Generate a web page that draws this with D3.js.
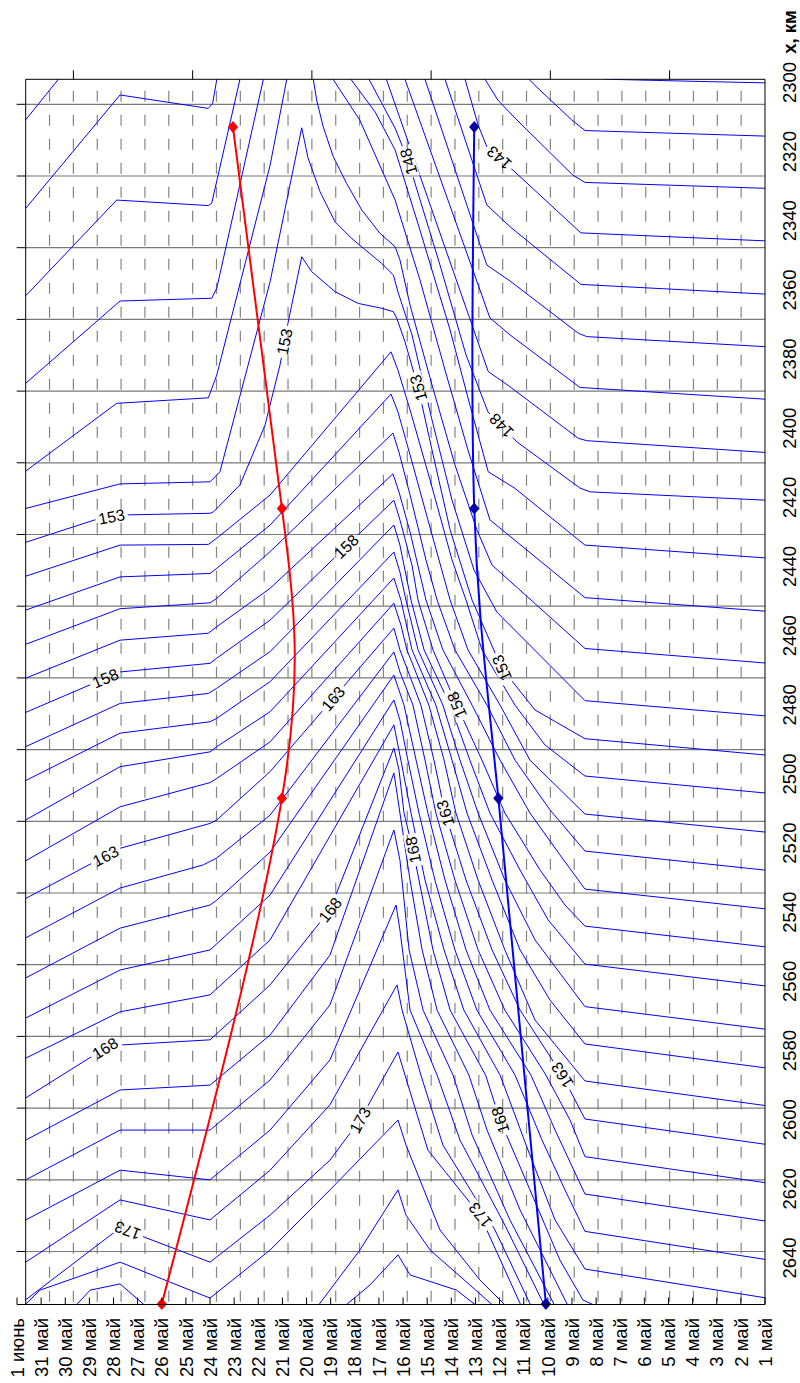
<!DOCTYPE html>
<html>
<head>
<meta charset="utf-8">
<script src="https://cdn.jsdelivr.net/npm/d3@7"></script>
<style>
  body { margin: 0; background: #fff; }
  svg { display: block; font-family: "Liberation Sans", Arial, sans-serif; }
</style>
</head>
<body>
<div id="chart"></div>
<script>
// ---- data ----
// day numbers: 1..31 = 1..31 May, 32 = 1 June
const dayTicks = d3.range(1, 33);
const kmTicks = d3.range(2300, 2641, 20);
const gridCols = d3.range(1, 31);
const gridRows = d3.range(0, 17);
const topTickCols = [2, 7, 12, 17, 22, 27];

const stationKm = [2312.9, 2423.2, 2507.0, 2653.3];
const redDays = [23.05, 21.02, 21.02, 26.0];
const blueDays = [13.05, 13.05, 12.05, 10.08];

// isolines, [day, km]
const contours = [
  { v: 140, pts: [[9.5,2297.8],[7.34,2299.1],[3.69,2299.7],[1,2300.1]] },
  { v: 141, pts: [[11.15,2295.8],[10.78,2299.1],[10.33,2302.2],[9.01,2310.8],[8.46,2313.9],[1,2315.5]] },
  { v: 142, pts: [[12.89,2295.8],[12.6,2299.1],[12.07,2305.1],[11.36,2310.3],[8.96,2326.8],[8.46,2328.9],[1,2330.6]] },
  { v: 143, pts: [[13.64,2295.8],[13.43,2299.1],[12.89,2312.3],[12.52,2318.7],[11.36,2325.9],[8.63,2343.5],[1,2345.8]] },
  { v: 144, pts: [[14.42,2295.8],[14.26,2299.1],[12.53,2335.4],[11.57,2341.7],[8.63,2358.4],[1,2361.2]] },
  { v: 145, pts: [[15.24,2295.8],[15.09,2299.1],[12.53,2352.8],[11.57,2357.4],[8.74,2372.5],[8.39,2373.5],[1,2376.4]] },
  { v: 146, pts: [[16.09,2295.8],[15.92,2299.1],[12.4,2368.1],[11.57,2373],[8.67,2388.2],[1,2391.6]] },
  { v: 147, pts: [[31.64,2310.8],[30.29,2299.1],[29.97,2295.8],[16.85,2295.8],[16.69,2299.1],[12.47,2383.6],[11.57,2388],[8.74,2402.9],[8.39,2403.6],[1,2407]] },
  { v: 148, pts: [[31.64,2336.4],[27.73,2303.6],[24.07,2307.5],[23.89,2306],[23.72,2299.1],[23.67,2295.8],[17.58,2295.8],[17.41,2299.1],[16.33,2313.2],[15.8,2322.4],[14.47,2352.8],[13.39,2378.8],[12.48,2395.3],[11.29,2403.9],[8.67,2417.3],[8.25,2418.4],[1,2420.8]] },
  { v: 149, pts: [[31.64,2361.7],[27.87,2334],[24.07,2335.6],[23.93,2334.9],[22.76,2299.1],[22.68,2295.8],[18.32,2295.8],[18.16,2299.1],[17.16,2308.5],[16.33,2319.5],[15.3,2342.7],[14.05,2371.6],[13.23,2393.3],[12.47,2412.6],[11.36,2417.4],[8.46,2433.8],[1,2437.5]] },
  { v: 150, pts: [[31.64,2387],[27.73,2363.2],[23.93,2362.4],[23.72,2359.5],[21.79,2299.1],[21.72,2295.8],[19.07,2295.8],[18.9,2299.1],[17.79,2310.9],[16.33,2334],[15.3,2357.1],[14.26,2383.2],[13.31,2406.3],[12.4,2426.5],[8.46,2449],[1,2452.9]] },
  { v: 151, pts: [[31.64,2412.4],[27.87,2392.8],[24.07,2391.2],[23.72,2384.6],[21.51,2323.9],[20.82,2299.1],[20.77,2295.8],[19.82,2295.8],[19.72,2299.1],[19.58,2305.1],[19.31,2312.8],[18.89,2321.5],[18.34,2329.2],[17.71,2336.9],[16.96,2343.6],[16.33,2347.5],[16.13,2351.3],[15.71,2364.4],[14.8,2387.5],[13.85,2410.6],[12.94,2429.4],[12.31,2439.6],[8.46,2463.7],[1,2467.9]] },
  { v: 152, pts: [[31.64,2423.2],[27.73,2416.1],[24.0,2415.5],[23.59,2412.6],[21.51,2357.6],[20.2,2313.1],[19.94,2321.8],[19.44,2331.6],[18.82,2340.3],[18.13,2345.1],[16.89,2352.3],[16.4,2355.7],[16.21,2360.6],[15.63,2373],[14.8,2397.6],[13.97,2420.8],[13.06,2441],[12.11,2453.2],[8.46,2478.8],[1,2483.2]] },
  { v: 153, pts: [[31.64,2433],[28.77,2426.5],[27.73,2425.1],[24.0,2424.6],[23.86,2424.2],[22.76,2416.4],[21.72,2399.1],[21.1,2381.7],[20.77,2369.6],[20.2,2350.4],[19.79,2354.7],[18.82,2360.5],[17.86,2363.9],[16.89,2365.3],[16.4,2366.3],[16.26,2368.2],[15.92,2375],[15.37,2388.4],[14.8,2406.3],[14.05,2429.4],[13.14,2449.7],[11.91,2469.4],[10.53,2481.5],[8.46,2489.8],[1,2494.5]] },
  { v: 154, pts: [[31.64,2442.8],[27.73,2433.8],[24.07,2433.6],[23.72,2431.8],[21.51,2419.3],[16.5,2377.9],[16.21,2383.2],[15.71,2394.7],[14.88,2415],[13.97,2438.1],[13.39,2449.7],[12.73,2464.1],[11.36,2480.1],[10.12,2491.6],[8.46,2500.6],[1,2505.5]] },
  { v: 155, pts: [[31.64,2452.6],[27.73,2443],[24.0,2442],[23.72,2440.5],[21.51,2428],[16.5,2390.1],[16.21,2395.3],[15.71,2407.7],[14.97,2426.5],[14.05,2449.7],[13.31,2464.1],[11.98,2480.1],[10.74,2496],[8.46,2511.6],[1,2516.8]] },
  { v: 156, pts: [[31.64,2462.5],[27.73,2452.2],[24.0,2450.5],[23.72,2449.2],[21.51,2435.7],[16.42,2401.4],[16.17,2406.9],[15.71,2419.3],[15.05,2438.1],[14.59,2449.7],[13.85,2464.1],[12.52,2480.1],[11.36,2496],[9.91,2510.4],[8.46,2522.3],[1,2527.8]] },
  { v: 157, pts: [[31.64,2472.3],[27.73,2461.3],[24.07,2459.3],[23.72,2457.4],[21.51,2446.3],[16.42,2413.2],[16.17,2418.4],[15.71,2430],[15.05,2449.7],[14.35,2464.1],[13.14,2480.1],[11.98,2496],[10.74,2511.3],[9.5,2523.4],[8.46,2533.3],[1,2539]] },
  { v: 158, pts: [[31.64,2482.2],[27.73,2470.5],[24.0,2468],[23.72,2466.5],[21.51,2455.5],[16.38,2420.8],[16.13,2426.5],[15.63,2439.6],[15.38,2449.7],[14.76,2464.1],[13.78,2480.1],[12.73,2496],[11.78,2511.3],[10.32,2527.8],[9.29,2537.9],[8.46,2544],[1,2550]] },
  { v: 159, pts: [[31.64,2492.1],[27.73,2479.6],[24.07,2476.7],[23.72,2475.2],[21.51,2464.6],[16.38,2428],[16.13,2433.8],[15.67,2449.7],[15.13,2464.1],[14.05,2480.1],[13.23,2496],[12.4,2511.3],[11.15,2527.8],[9.99,2542.2],[8.46,2555],[1,2561.3]] },
  { v: 160, pts: [[31.64,2501.9],[27.73,2488.2],[24.0,2484.9],[23.72,2483.9],[21.51,2473.3],[16.38,2435.8],[16.13,2441.6],[15.88,2449.7],[15.38,2464.1],[14.35,2480.1],[13.64,2496],[12.89,2511.3],[11.78,2530.7],[10.53,2548],[8.46,2567.3],[1,2573.8]] },
  { v: 161, pts: [[31.64,2513.3],[27.73,2497.9],[24.0,2493.6],[23.72,2492.1],[21.51,2482],[16.38,2443.3],[16.09,2449.7],[15.63,2464.1],[14.64,2480.1],[13.97,2496],[13.35,2511.3],[12.31,2530.7],[11.15,2550.9],[9.91,2565.4],[8.46,2578.1],[1,2585]] },
  { v: 162, pts: [[31.64,2525.1],[27.73,2509.5],[24.0,2502.5],[23.72,2501.3],[21.51,2490.7],[16.38,2450.6],[16.09,2456.9],[15.84,2464.1],[14.93,2480.1],[14.3,2496],[13.81,2511.3],[12.89,2530.7],[11.78,2550.9],[10.53,2571.2],[8.46,2588.8],[1,2595.9]] },
  { v: 163, pts: [[31.64,2536],[27.73,2521.5],[24.0,2514.3],[23.72,2513.3],[21.51,2499.3],[16.38,2457.8],[16.13,2464.1],[15.26,2480.1],[14.72,2496],[14.26,2511.3],[13.39,2530.7],[12.31,2550.9],[11.15,2568.3],[9.41,2587.1],[8.46,2599.8],[1,2607.1]] },
  { v: 164, pts: [[31.64,2547.4],[27.73,2533],[24.28,2526.3],[23.72,2524.3],[21.51,2511.9],[16.38,2464.7],[16.13,2470.5],[15.59,2480.1],[15.09,2496],[14.64,2511.3],[13.85,2530.7],[12.89,2550.9],[11.78,2568.3],[10.08,2587.1],[9.08,2600.1],[8.46,2610.7],[1,2618.2]] },
  { v: 165, pts: [[31.64,2559],[27.73,2544.6],[24.0,2537.9],[23.72,2536.5],[21.51,2522.6],[16.38,2471.4],[15.96,2480.1],[15.46,2496],[14.97,2511.3],[14.26,2530.7],[13.39,2550.9],[12.4,2568.3],[10.7,2587.1],[9.7,2603],[8.46,2621.5],[1,2629.3]] },
  { v: 166, pts: [[31.64,2570.6],[27.73,2556.7],[24.0,2550.9],[21.51,2535],[16.38,2478.6],[16.13,2484.4],[15.8,2496],[15.34,2511.3],[14.68,2530.7],[13.85,2550.9],[12.94,2568.3],[11.36,2587.1],[10.24,2605.9],[9.29,2620.3],[8.46,2632.3],[1,2640.4]] },
  { v: 167, pts: [[31.64,2582.2],[27.73,2568.8],[24.0,2563.9],[21.51,2548],[16.38,2485.8],[16.09,2496],[15.67,2511.3],[15.09,2530.7],[14.3,2550.9],[13.48,2568.3],[11.98,2587.1],[10.82,2608.8],[9.7,2629],[8.46,2643.2],[1,2651.5]] },
  { v: 168, pts: [[31.64,2593.7],[28.35,2579.3],[27.73,2578.4],[24.0,2576.9],[21.51,2561],[19.03,2539.3],[16.38,2492.5],[16.17,2498.8],[15.96,2511.3],[15.59,2522],[14.76,2550.9],[14.05,2568.3],[12.58,2587.1],[11.98,2600.1],[10.74,2620.3],[9.5,2640.6],[8.54,2652.2],[7.63,2655]] },
  { v: 169, pts: [[31.64,2605.9],[27.73,2591.4],[24.0,2590],[21.51,2575.5],[19.03,2552.4],[16.38,2499.7],[16.21,2507.5],[16.13,2511.3],[15.71,2530.7],[15.21,2550.9],[14.59,2568.3],[13.27,2587.1],[12.52,2603],[11.15,2626.1],[9.08,2655]] },
  { v: 170, pts: [[31.64,2617.4],[27.73,2603],[24.0,2603],[21.51,2588.5],[19.03,2566.8],[16.38,2516.2],[16.13,2524.9],[15.75,2550.9],[15.17,2568.3],[13.93,2587.1],[13.14,2604.4],[11.57,2629],[9.62,2655]] },
  { v: 171, pts: [[31.64,2629],[27.73,2614.6],[24.0,2617.4],[21.51,2603],[19.03,2582.7],[16.29,2537.9],[16.13,2545.1],[15.71,2568.3],[14.59,2587.1],[13.64,2605.9],[11.78,2630.5],[10.05,2655]] },
  { v: 172, pts: [[31.64,2641.2],[27.73,2623.2],[24.0,2629],[21.51,2614.6],[19.03,2595.7],[16.25,2561],[16.04,2568.3],[15.26,2587.1],[14.35,2607.3],[12.19,2631.9],[10.62,2655]] },
  { v: 173, pts: [[31.64,2652.1],[27.73,2631.3],[24.0,2641.2],[21.51,2627.6],[19.03,2611.7],[17.79,2600.1],[16.21,2580.4],[15.92,2587.1],[14.97,2608.8],[12.81,2627.6],[11.03,2655]] },
  { v: 174, pts: [[31.88,2655],[31.05,2649.3],[27.73,2641.2],[24.0,2651.6],[21.51,2637.7],[19.03,2620.3],[16.21,2600.1],[15.88,2607.3],[14.47,2631.9],[12.81,2646.4],[11.57,2655]] },
  { v: 175, pts: [[29.73,2655],[28.97,2649.3],[27.73,2647.5],[26.49,2655],[19.65,2655],[17.79,2637.7],[16.21,2620.3],[15.88,2627.6],[14.88,2637.7],[13.23,2647.8],[12.07,2655]] },
  { v: 176, pts: [[18.61,2655],[17.37,2647.8],[16.21,2639.1],[15.71,2644.9],[13.78,2649.3],[12.74,2655]] }
];

// contour labels: [value, day, km]
const contourLabels = [
  [143, 11.98, 2321.5],
  [148, 15.78, 2322.9], [148, 11.98, 2399.6],
  [153, 28.08, 2425.6], [153, 20.89, 2375.0], [153, 15.37, 2388.4], [153, 11.91, 2469.4],
  [158, 28.35, 2472.2], [158, 18.41, 2433.8], [158, 13.78, 2480.1], [158, 7.92, 2520.6],
  [163, 28.35, 2523.4], [163, 18.75, 2479.1], [163, 14.26, 2511.4], [163, 9.41, 2587.1],
  [168, 28.35, 2579.3], [168, 19.03, 2539.3], [168, 15.58, 2522.0], [168, 11.98, 2600.1],
  [173, 27.44, 2632.5], [173, 17.78, 2600.1], [173, 12.81, 2627.6]
];

// ---- layout ----
const W = 800, H = 1383;
const frame = { left: 25.7, right: 765, top: 79.3, bottom: 1304.5 };

const x = d3.scaleLinear().domain([32, 1]).range([17, frame.right]);
const y = d3.scaleLinear().domain([2300, 2640]).range([82.5, 1258]);
const xg = d3.scaleLinear().domain([0, 31]).range([frame.left, frame.right]);
const yg = d3.scaleLinear().domain([0, 16]).range([104.3, 1251.5]);

const svg = d3.select("#chart").append("svg").attr("width", W).attr("height", H);
svg.append("rect").attr("width", W).attr("height", H).attr("fill", "#fff");
const defs = svg.append("defs");
defs.append("clipPath").attr("id", "frameClip").append("rect")
  .attr("x", frame.left).attr("y", frame.top)
  .attr("width", frame.right - frame.left).attr("height", frame.bottom - frame.top);

// grid
svg.append("g").selectAll("line").data(gridCols).join("line")
  .attr("x1", d => xg(d)).attr("x2", d => xg(d))
  .attr("y1", frame.top).attr("y2", frame.bottom)
  .attr("stroke", "#858585").attr("stroke-width", 1.2)
  .attr("stroke-dasharray", "11,13").attr("stroke-dashoffset", 12.6);
svg.append("g").selectAll("line").data(gridRows).join("line")
  .attr("x1", frame.left).attr("x2", frame.right)
  .attr("y1", d => yg(d)).attr("y2", d => yg(d))
  .attr("stroke", "#7a7a7a").attr("stroke-width", 1.2);

// contours
const line = d3.line().x(d => x(d[0])).y(d => y(d[1]));
const mask = defs.append("mask").attr("id", "lblMask")
  .attr("maskUnits", "userSpaceOnUse").attr("x", 0).attr("y", 0).attr("width", W).attr("height", H);
mask.append("rect").attr("width", W).attr("height", H).attr("fill", "#fff");

const cg = svg.append("g").attr("clip-path", "url(#frameClip)")
  .append("g").attr("mask", "url(#lblMask)");
cg.selectAll("path").data(contours).join("path")
  .attr("d", c => line(c.pts))
  .attr("fill", "none").attr("stroke", "#0000ff").attr("stroke-width", 1);

function nearest(pts, px, py) {
  let best = null;
  for (let i = 0; i < pts.length - 1; i++) {
    const ax = x(pts[i][0]), ay = y(pts[i][1]);
    const bx = x(pts[i + 1][0]), by = y(pts[i + 1][1]);
    const dx = bx - ax, dy = by - ay, L2 = dx * dx + dy * dy || 1;
    let t = ((px - ax) * dx + (py - ay) * dy) / L2;
    t = Math.max(0, Math.min(1, t));
    const qx = ax + t * dx, qy = ay + t * dy;
    const dist = Math.hypot(px - qx, py - qy);
    if (!best || dist < best.dist) best = { x: qx, y: qy, dx, dy, dist };
  }
  return best;
}

const labelG = svg.append("g");
contourLabels.forEach(([v, day, km]) => {
  const c = contours.find(k => k.v === v);
  if (!c) return;
  const p = nearest(c.pts, x(day), y(km));
  if (!p || p.dist > 18) return;
  let dx = p.dx, dy = p.dy;
  if (dy > 0 || (dy === 0 && dx < 0)) { dx = -dx; dy = -dy; }
  const ang = Math.atan2(dy, dx) * 180 / Math.PI;
  const t = labelG.append("text")
    .attr("transform", `translate(${p.x},${p.y}) rotate(${ang})`)
    .attr("text-anchor", "middle").attr("dy", "0.36em")
    .attr("font-size", 16).attr("fill", "#000")
    .text(v);
  const w = t.node().getComputedTextLength() + 6;
  mask.append("rect")
    .attr("transform", `translate(${p.x},${p.y}) rotate(${ang})`)
    .attr("x", -w / 2).attr("y", -7).attr("width", w).attr("height", 14)
    .attr("fill", "#000");
});

// red and blue station lines
const redPts = stationKm.map((k, i) => [redDays[i], k]);
const bluePts = stationKm.map((k, i) => [blueDays[i], k]);
const smooth = d3.line().x(d => x(d[0])).y(d => y(d[1])).curve(d3.curveNatural);
const diamond = "M0,-6L5.2,0L0,6L-5.2,0Z";

svg.append("path").attr("d", smooth(redPts))
  .attr("fill", "none").attr("stroke", "#ff0000").attr("stroke-width", 2);
svg.append("path").attr("d", smooth(bluePts))
  .attr("fill", "none").attr("stroke", "#0000ff").attr("stroke-width", 2);
svg.append("g").selectAll("path").data(redPts).join("path")
  .attr("transform", d => `translate(${x(d[0])},${y(d[1])})`)
  .attr("d", diamond).attr("fill", "#ff0000");
svg.append("g").selectAll("path").data(bluePts).join("path")
  .attr("transform", d => `translate(${x(d[0])},${y(d[1])})`)
  .attr("d", diamond).attr("fill", "#0000a0");

// frame and ticks
const ax = svg.append("g").attr("stroke", "#000").attr("stroke-width", 1);
ax.append("line").attr("x1", frame.left).attr("x2", frame.right).attr("y1", frame.top).attr("y2", frame.top);
ax.append("line").attr("x1", frame.left).attr("x2", frame.left).attr("y1", frame.top).attr("y2", frame.bottom);
ax.append("line").attr("x1", frame.right).attr("x2", frame.right).attr("y1", frame.top).attr("y2", frame.bottom);
ax.append("line").attr("x1", x(32)).attr("x2", frame.right).attr("y1", frame.bottom).attr("y2", frame.bottom);
ax.selectAll("line.tt").data(topTickCols).join("line").attr("class", "tt")
  .attr("x1", d => xg(d)).attr("x2", d => xg(d)).attr("y1", frame.top).attr("y2", frame.top - 9);
ax.selectAll("line.lt").data(gridRows).join("line").attr("class", "lt")
  .attr("x1", frame.left).attr("x2", frame.left - 9).attr("y1", d => yg(d)).attr("y2", d => yg(d));
ax.selectAll("line.bt").data(dayTicks).join("line").attr("class", "bt")
  .attr("x1", d => x(d)).attr("x2", d => x(d)).attr("y1", frame.bottom).attr("y2", frame.bottom - 7);

// tick labels
svg.append("g").selectAll("text").data(dayTicks).join("text")
  .attr("transform", d => `translate(${x(d)},1318) rotate(-90)`)
  .attr("text-anchor", "end").attr("dy", "0.36em")
  .attr("font-size", 18.5).attr("fill", "#000")
  .text(d => d === 32 ? "1 июнь" : `${d} май`);

svg.append("g").selectAll("text").data(kmTicks).join("text")
  .attr("transform", d => `translate(796,${y(d)}) rotate(-90)`)
  .attr("text-anchor", "middle")
  .attr("font-size", 18.5).attr("fill", "#000")
  .text(d => d);

svg.append("text")
  .attr("transform", "translate(796,32) rotate(-90)")
  .attr("text-anchor", "middle").attr("font-size", 18.5).attr("font-weight", "bold")
  .text("х, км");
</script>
</body>
</html>
